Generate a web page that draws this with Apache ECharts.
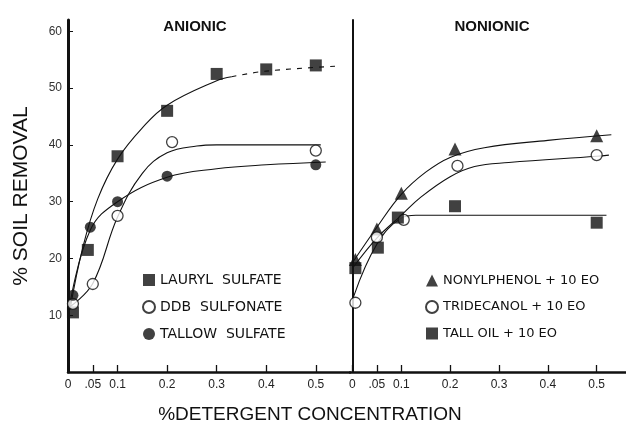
<!DOCTYPE html>
<html>
<head>
<meta charset="utf-8">
<script src="https://cdn.jsdelivr.net/npm/echarts@6/dist/echarts.min.js"></script>
<style>
  html, body { margin: 0; padding: 0; background: #fff; }
  #chart { width: 626px; height: 429px; }
</style>
</head>
<body>
<div id="chart"></div>
<script>
// measured points, anionic panel
var laurylX = [0.01, 0.04, 0.1, 0.2, 0.3, 0.4, 0.5];
var laurylY = [10.5, 21.5, 38, 46, 52.5, 53.3, 54];
var ddbX = [0.01, 0.05, 0.1, 0.21, 0.5];
var ddbY = [12, 15.5, 27.5, 40.5, 39];
var tallowX = [0.01, 0.045, 0.1, 0.2, 0.5];
var tallowY = [13.5, 25.5, 30, 34.5, 36.5];

// measured points, nonionic panel
var nonylX = [0.006, 0.05, 0.1, 0.21, 0.5];
var nonylY = [19.8, 25.2, 31.5, 39.3, 41.6];
var tridecX = [0.006, 0.05, 0.105, 0.215, 0.5];
var tridecY = [12.2, 23.7, 26.8, 36.3, 38.2];
var talloilX = [0.006, 0.052, 0.093, 0.21, 0.5];
var talloilY = [18.3, 21.9, 27.2, 29.2, 26.3];

// fitted curves
var laurylCurveX = [0.004, 0.03, 0.06, 0.1, 0.15, 0.2, 0.3, 0.33];
var laurylCurveY = [11, 22, 30.5, 37.5, 43, 47, 51.3, 52];
var laurylDashX = [0.33, 0.4, 0.55];
var laurylDashY = [52, 53, 53.9];
var ddbCurveX = [0.004, 0.05, 0.1, 0.15, 0.2, 0.26, 0.3, 0.51];
var ddbCurveY = [11.5, 15.6, 27.3, 35, 38.6, 39.8, 40, 40];
var tallowCurveX = [0.004, 0.045, 0.1, 0.2, 0.3, 0.4, 0.52];
var tallowCurveY = [12, 25, 30, 34.3, 35.8, 36.5, 37];

var nonylCurveX = [0.002, 0.05, 0.1, 0.15, 0.2, 0.27, 0.4, 0.53];
var nonylCurveY = [19.5, 25.5, 31.3, 35.2, 37.8, 39.5, 40.8, 41.8];
var tridecCurveX = [0.002, 0.05, 0.1, 0.14, 0.2, 0.25, 0.32, 0.5, 0.525];
var tridecCurveY = [18.5, 23.6, 27.6, 30.8, 34.4, 36.2, 36.9, 38, 38.2];
var talloilCurveX = [0.002, 0.05, 0.1, 0.13, 0.2, 0.52];
var talloilCurveY = [13.2, 22.5, 27.1, 27.6, 27.6, 27.6];

var xTicks = [0, 0.05, 0.1, 0.2, 0.3, 0.4, 0.5];
var yTicks = [10, 20, 30, 40, 50, 60];

function pairs(xs, ys) {
    var out = [];
    for (var i = 0; i < xs.length; i++) {
        out.push([xs[i], ys[i]]);
    }
    return out;
}

function xLabel(v) {
    if (v === 0) return '0';
    if (v === 0.05) return '.05';
    return String(v);
}

var ink = '#111';
var filled = { color: ink };
var hollow = { color: '#fff', borderColor: ink, borderWidth: 1.3 };

function dots(name, idx, xs, ys, symbol, size, style) {
    return {
        name: name, type: 'scatter', xAxisIndex: idx, yAxisIndex: idx,
        symbol: symbol, symbolSize: size, itemStyle: style, z: 5,
        data: pairs(xs, ys)
    };
}

function curve(idx, xs, ys, dashed) {
    return {
        type: 'line', xAxisIndex: idx, yAxisIndex: idx, smooth: 0.4,
        showSymbol: false, silent: true, z: 2,
        lineStyle: { color: ink, width: 1.1, type: dashed ? [5, 6] : 'solid' },
        data: pairs(xs, ys)
    };
}

function xAxisFor(idx, min, max) {
    return {
        type: 'value', gridIndex: idx, min: min, max: max,
        splitLine: { show: false },
        axisLine: { lineStyle: { color: ink, width: 2.5 } },
        axisTick: { inside: true, length: 7, customValues: xTicks, lineStyle: { color: ink, width: 1.3 } },
        axisLabel: { customValues: xTicks, formatter: xLabel, color: '#222', fontSize: 12,
                     fontFamily: 'Liberation Sans', margin: 7 }
    };
}

var chart = echarts.init(document.getElementById('chart'));

var option = {
    backgroundColor: '#fff',
    animation: false,
    title: [
        { text: 'ANIONIC', left: 190, top: 14, textAlign: 'center',
          textStyle: { fontSize: 15, fontWeight: 'bold', color: ink, fontFamily: 'Liberation Sans' } },
        { text: 'NONIONIC', left: 487, top: 14, textAlign: 'center',
          textStyle: { fontSize: 15, fontWeight: 'bold', color: ink, fontFamily: 'Liberation Sans' } },
        { text: '%DETERGENT CONCENTRATION', left: 305, top: 400, textAlign: 'center',
          textStyle: { fontSize: 19, fontWeight: 'normal', color: ink, fontFamily: 'Liberation Sans' } }
    ],
    legend: [
        { left: 137, top: 268, orient: 'vertical', itemGap: 13, itemWidth: 12, itemHeight: 12,
          data: ['LAURYL  SULFATE', 'DDB  SULFONATE', 'TALLOW  SULFATE'],
          textStyle: { fontSize: 14, color: ink, fontFamily: 'DejaVu Sans' } },
        { left: 420, top: 269, orient: 'vertical', itemGap: 13, itemWidth: 12, itemHeight: 12,
          data: ['NONYLPHENOL + 10 EO', 'TRIDECANOL + 10 EO', 'TALL OIL + 10 EO'],
          textStyle: { fontSize: 13, color: ink, fontFamily: 'DejaVu Sans' } }
    ],
    grid: [
        { left: 68, top: 20, width: 282, height: 352 },
        { left: 350, top: 20, width: 276, height: 352 }
    ],
    xAxis: [
        xAxisFor(0, 0, 0.569),
        xAxisFor(1, -0.005, 0.56)
    ],
    yAxis: [
        {
            type: 'value', gridIndex: 0, min: 0, max: 62,
            name: '% SOIL REMOVAL', nameLocation: 'middle', nameGap: 36, nameRotate: 90,
            nameTextStyle: { fontSize: 21, color: ink, fontFamily: 'Liberation Sans' },
            splitLine: { show: false },
            axisLine: { lineStyle: { color: ink, width: 3 } },
            axisTick: { inside: true, length: 5, customValues: yTicks, lineStyle: { color: ink } },
            axisLabel: { customValues: yTicks, color: '#333', fontSize: 12, margin: 6,
                         fontFamily: 'Liberation Sans' }
        },
        {
            type: 'value', gridIndex: 1, min: 0, max: 62,
            splitLine: { show: false },
            axisLine: { lineStyle: { color: ink, width: 2 } },
            axisTick: { show: false },
            axisLabel: { show: false }
        }
    ],
    series: [
        curve(0, laurylCurveX, laurylCurveY, false),
        curve(0, laurylDashX, laurylDashY, true),
        curve(0, ddbCurveX, ddbCurveY, false),
        curve(0, tallowCurveX, tallowCurveY, false),
        curve(1, nonylCurveX, nonylCurveY, false),
        curve(1, tridecCurveX, tridecCurveY, false),
        curve(1, talloilCurveX, talloilCurveY, false),
        dots('LAURYL  SULFATE', 0, laurylX, laurylY, 'rect', 12, filled),
        dots('DDB  SULFONATE', 0, ddbX, ddbY, 'circle', 11, hollow),
        dots('TALLOW  SULFATE', 0, tallowX, tallowY, 'circle', 11, filled),
        dots('NONYLPHENOL + 10 EO', 1, nonylX, nonylY, 'triangle', 13, filled),
        dots('TRIDECANOL + 10 EO', 1, tridecX, tridecY, 'circle', 11, hollow),
        dots('TALL OIL + 10 EO', 1, talloilX, talloilY, 'rect', 12, filled)
    ]
};

chart.setOption(option);
</script>
</body>
</html>
